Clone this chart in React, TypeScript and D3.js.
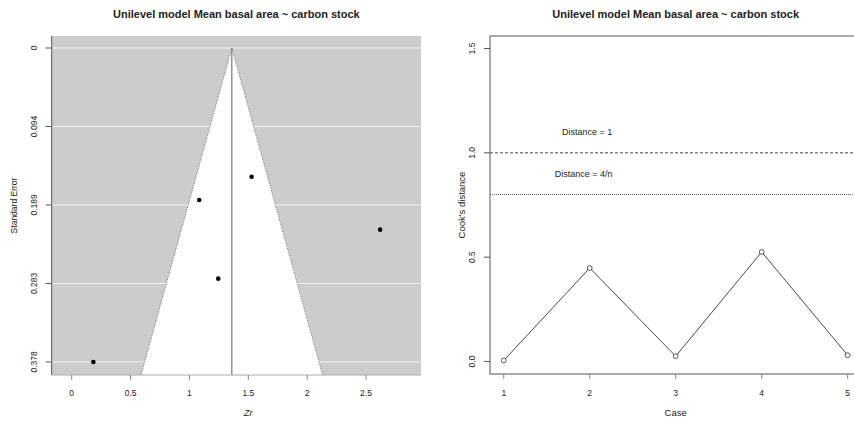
import React from "react";
import * as d3 from "d3";

// Funnel plot data: Fisher's Zr and its standard error per study
const studyZr = [1.528, 1.083, 2.62, 1.245, 0.184];
const studySE = [0.155, 0.183, 0.2187, 0.2777, 0.378];
const pooledZr = 1.36;
const seTicks = [0, 0.0945, 0.189, 0.2835, 0.378];
const seTickLabels = ["0", "0.094", "0.189", "0.283", "0.378"];
const zrTicks = [0, 0.5, 1, 1.5, 2, 2.5];
const zrTickLabels = ["0", "0.5", "1", "1.5", "2", "2.5"];

// Cook's distance per case
const cases = [1, 2, 3, 4, 5];
const cooksD = [0.005, 0.448, 0.025, 0.525, 0.03];
const cooksTicks = [0, 0.5, 1, 1.5];
const cooksTickLabels = ["0.0", "0.5", "1.0", "1.5"];
const nCases = 5;

const title = "Unilevel model Mean basal area ~ carbon stock";
const FONT = "'Liberation Sans', Arial, Helvetica, sans-serif";
const AX = "#555";
const TXT = "#222";
const TICK_FS = 8.5;

function FunnelPanel() {
  const x = d3.scaleLinear().domain([-0.17, 2.967]).range([51.7, 421]);
  const y = d3.scaleLinear().domain([-0.01445, 0.3937]).range([36, 375]);
  const [x0, x1] = x.range();
  const [y0, y1] = y.range();
  const seMax = y.domain()[1];
  const funnel = [
    [pooledZr, 0],
    [pooledZr + 1.96 * seMax, seMax],
    [pooledZr - 1.96 * seMax, seMax],
  ];
  const poly = funnel.map(([a, b]) => `${x(a)},${y(b)}`).join(" ");
  return (
    <g>
      <text x={(x0 + x1) / 2} y={18} textAnchor="middle" fontSize={11} fontWeight="bold" fill={TXT}>
        {title}
      </text>
      <rect x={x0} y={y0} width={x1 - x0} height={y1 - y0} fill="#cbcdcc" />
      {seTicks.map((t) => (
        <line key={t} x1={x0} x2={x1} y1={y(t)} y2={y(t)} stroke="#f2f2f2" strokeWidth={1} />
      ))}
      <polygon points={poly} fill="#ffffff" />
      <line x1={x(funnel[0][0])} y1={y(0)} x2={x(funnel[1][0])} y2={y(seMax)} stroke="#444" strokeWidth={0.8} strokeDasharray="1,1.5" />
      <line x1={x(funnel[0][0])} y1={y(0)} x2={x(funnel[2][0])} y2={y(seMax)} stroke="#444" strokeWidth={0.8} strokeDasharray="1,1.5" />
      <line x1={x(pooledZr)} x2={x(pooledZr)} y1={y(0)} y2={y1} stroke="#777" strokeWidth={1.2} />
      {studyZr.map((v, i) => (
        <circle key={i} cx={x(v)} cy={y(studySE[i])} r={2.3} fill="#000" />
      ))}
      <line x1={x0} x2={x0} y1={y0} y2={y1} stroke={AX} />
      <line x1={x0} x2={x1} y1={y1} y2={y1} stroke="#aaa" />
      {seTicks.map((t, i) => (
        <g key={t}>
          <line x1={x0 - 6} x2={x0} y1={y(t)} y2={y(t)} stroke={AX} />
          <text transform={`translate(${x0 - 18},${y(t)}) rotate(-90)`} textAnchor="middle" dy="0.35em" fontSize={TICK_FS} fill={TXT}>
            {seTickLabels[i]}
          </text>
        </g>
      ))}
      {zrTicks.map((t, i) => (
        <g key={t}>
          <line x1={x(t)} x2={x(t)} y1={y1} y2={y1 + 5} stroke="#888" />
          <text x={x(t)} y={396} textAnchor="middle" fontSize={TICK_FS} fill={TXT}>
            {zrTickLabels[i]}
          </text>
        </g>
      ))}
      <text x={x(1.5)} y={416} textAnchor="middle" fontSize={9.5} fontStyle="italic" fill={TXT}>
        Zr
      </text>
      <text transform={`translate(14,${(y0 + y1) / 2}) rotate(-90)`} textAnchor="middle" dy="0.35em" fontSize={8.5} fill={TXT}>
        Standard Error
      </text>
    </g>
  );
}

function CooksPanel() {
  const x = d3.scaleLinear().domain([0.84, 5.16]).range([490, 861.4]);
  const y = d3.scaleLinear().domain([-0.06, 1.56]).range([374, 36]);
  const [x0, x1] = x.range();
  const [y1, y0] = y.range();
  const line = d3
    .line<number>()
    .x((_, i) => x(cases[i]))
    .y((d) => y(d));
  return (
    <g>
      <text x={675.7} y={18} textAnchor="middle" fontSize={11} fontWeight="bold" fill={TXT}>
        {title}
      </text>
      <rect x={x0} y={y0} width={x1 - x0} height={y1 - y0} fill="none" stroke={AX} />
      <line x1={x0} x2={x1} y1={y(1)} y2={y(1)} stroke="#444" strokeDasharray="3,2" />
      <line x1={x0} x2={x1} y1={y(4 / nCases)} y2={y(4 / nCases)} stroke="#444" strokeDasharray="1,1" strokeWidth={0.9} />
      <text x={x(1.97)} y={y(1.1)} dy="0.35em" textAnchor="middle" fontSize={9} fill={TXT}>
        Distance = 1
      </text>
      <text x={x(1.93)} y={y(4 / nCases + 0.1)} dy="0.35em" textAnchor="middle" fontSize={9} fill={TXT}>
        Distance = 4/n
      </text>
      <path d={line(cooksD) ?? ""} fill="none" stroke="#333" strokeWidth={0.9} />
      {cooksD.map((v, i) => (
        <circle key={i} cx={x(cases[i])} cy={y(v)} r={2.4} fill="#fff" stroke="#333" strokeWidth={0.8} />
      ))}
      {cooksTicks.map((t, i) => (
        <g key={t}>
          <line x1={x0 - 6} x2={x0} y1={y(t)} y2={y(t)} stroke={AX} />
          <text transform={`translate(${x0 - 18},${y(t)}) rotate(-90)`} textAnchor="middle" dy="0.35em" fontSize={TICK_FS} fill={TXT}>
            {cooksTickLabels[i]}
          </text>
        </g>
      ))}
      {cases.map((c) => (
        <g key={c}>
          <line x1={x(c)} x2={x(c)} y1={y1} y2={y1 + 5} stroke="#888" />
          <text x={x(c)} y={396} textAnchor="middle" fontSize={TICK_FS} fill={TXT}>
            {c}
          </text>
        </g>
      ))}
      <text x={x(3)} y={416} textAnchor="middle" fontSize={9.5} fill={TXT}>
        Case
      </text>
      <text transform={`translate(461.7,${(y0 + y1) / 2}) rotate(-90)`} textAnchor="middle" dy="0.35em" fontSize={9.5} fill={TXT}>
        Cook's distance
      </text>
    </g>
  );
}

export default function App() {
  return (
    <svg
      width={854}
      height={421}
      style={{ position: "absolute", left: 0, top: 0, background: "#fff" }}
      fontFamily={FONT}
    >
      <FunnelPanel />
      <CooksPanel />
    </svg>
  );
}
